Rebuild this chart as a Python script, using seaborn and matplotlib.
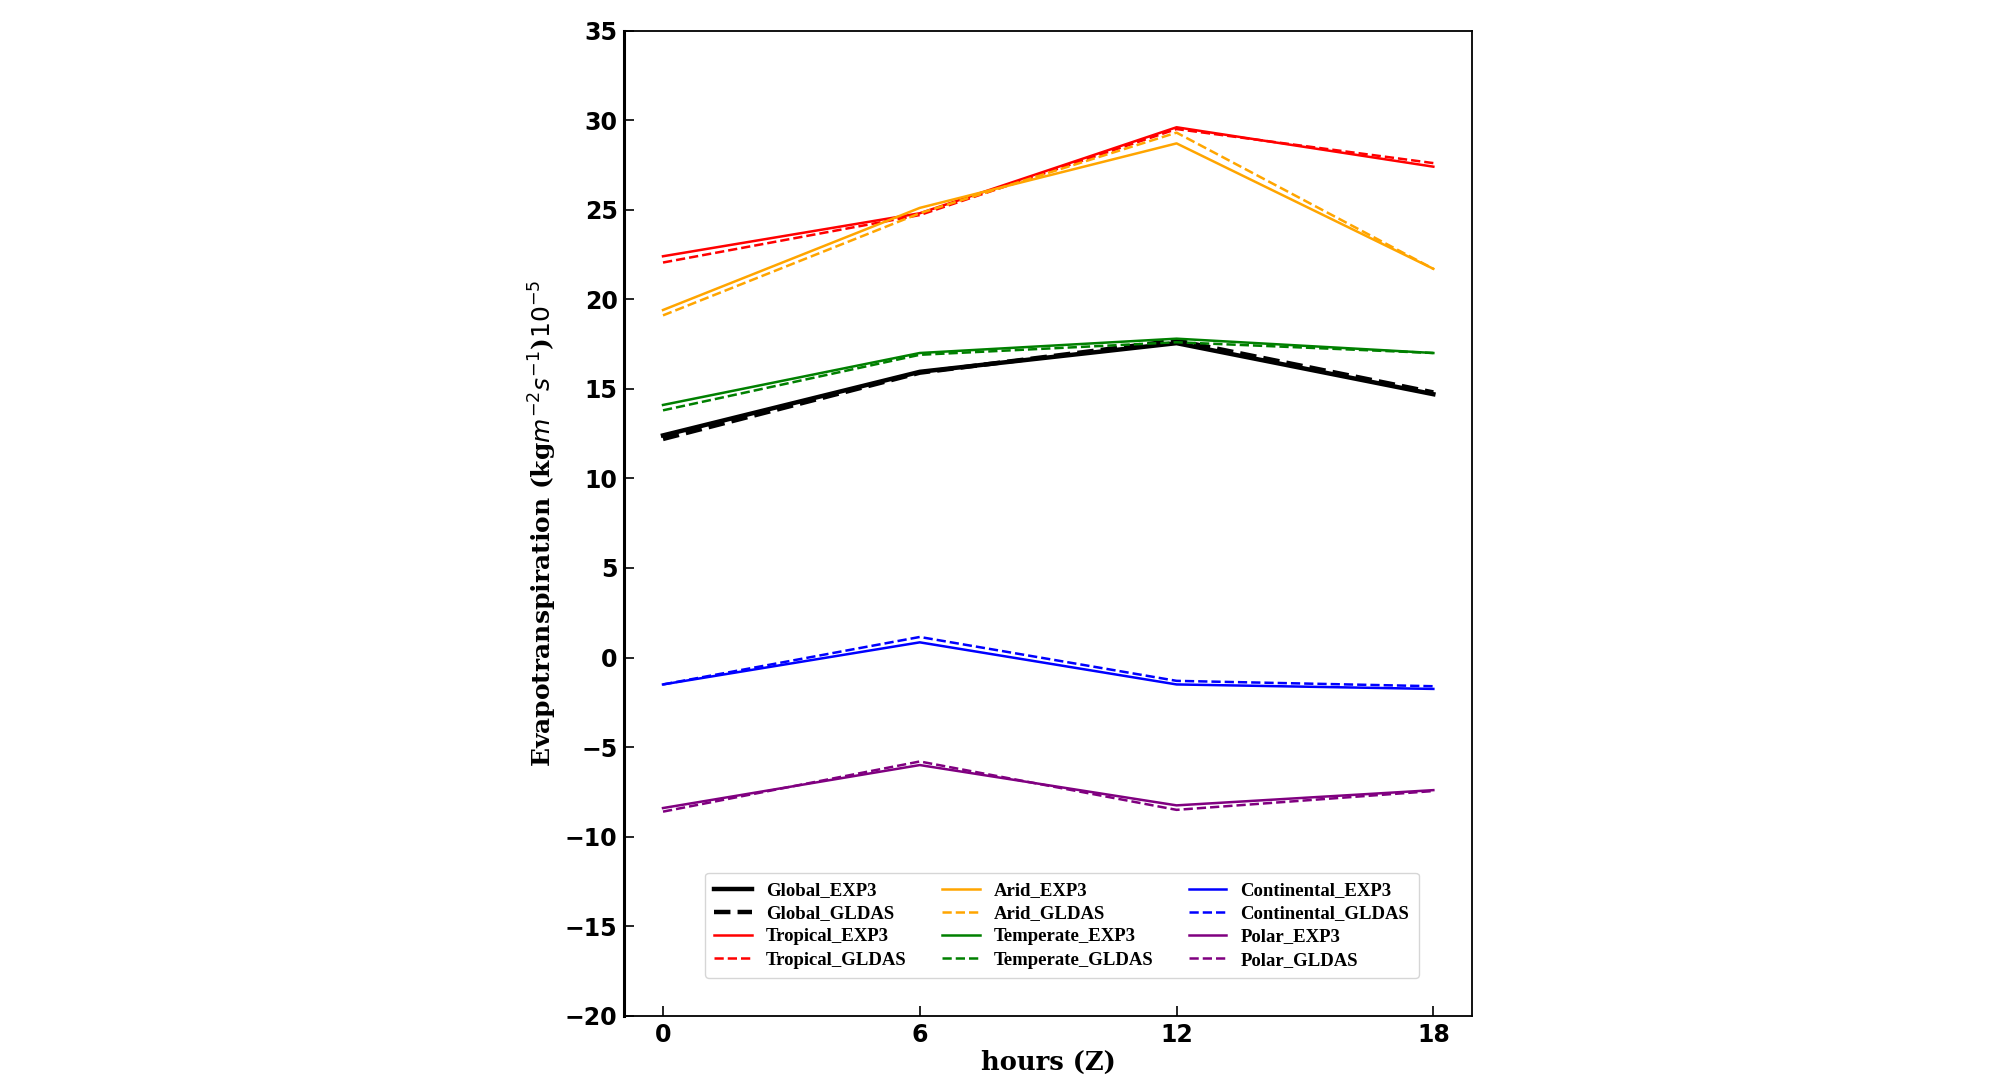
import numpy as np
import pandas as pd
import matplotlib
matplotlib.use("Agg")
import matplotlib.pyplot as plt
import seaborn as sns

hours = [0, 6, 12, 18]

global_exp3 = [12.4, 15.95, 17.55, 14.7]
global_gldas = [12.2, 15.9, 17.7, 14.8]
tropical_exp3 = [22.4, 24.8, 29.6, 27.4]
tropical_gldas = [22.05, 24.7, 29.5, 27.6]
arid_exp3 = [19.4, 25.1, 28.7, 21.7]
arid_gldas = [19.1, 24.8, 29.3, 21.7]
temperate_exp3 = [14.1, 17.0, 17.8, 17.0]
temperate_gldas = [13.8, 16.9, 17.6, 17.0]
continental_exp3 = [-1.5, 0.85, -1.5, -1.75]
continental_gldas = [-1.5, 1.15, -1.3, -1.6]
polar_exp3 = [-8.4, -6.0, -8.25, -7.4]
polar_gldas = [-8.6, -5.8, -8.5, -7.45]

regions = ["Global", "Tropical", "Arid", "Temperate", "Continental", "Polar"]
colors = ["black", "red", "orange", "green", "blue", "purple"]
exp3 = [global_exp3, tropical_exp3, arid_exp3, temperate_exp3, continental_exp3, polar_exp3]
gldas = [global_gldas, tropical_gldas, arid_gldas, temperate_gldas, continental_gldas, polar_gldas]


def main():
    fig = plt.figure(figsize=(20.08, 10.9), dpi=100)
    ax = fig.add_axes([0.311, 0.068, 0.422, 0.904])

    for name, col, e, g in zip(regions, colors, exp3, gldas):
        lw = 3.2 if name == "Global" else 1.8
        sns.lineplot(x=hours, y=e, color=col, lw=lw, ax=ax, label=name + "_EXP3")
        sns.lineplot(x=hours, y=g, color=col, lw=lw, ls="--", ax=ax, label=name + "_GLDAS")

    ax.set_ylim(-20, 35)
    ax.set_yticks(np.arange(-20, 36, 5))
    ax.set_xticks(hours)
    ax.tick_params(direction="in", length=7, width=1.2, labelsize=17, pad=5)
    for lab in ax.get_yticklabels():
        lab.set_fontweight("bold")
    for lab in ax.get_xticklabels():
        lab.set_fontweight("bold")

    ax.set_xlabel("hours (Z)", fontsize=18.5, fontweight="bold", family="DejaVu Serif",
                  labelpad=2)
    ax.set_ylabel(r"Evapotranspiration (kg$m^{-2}s^{-1}$)$10^{-5}$",
                  fontsize=18, fontweight="bold", family="DejaVu Serif", labelpad=4)

    ax.spines["left"].set_linewidth(2.2)
    for s in ["top", "right", "bottom"]:
        ax.spines[s].set_linewidth(1.3)

    ax.legend(ncol=3, loc="lower center", bbox_to_anchor=(0.516, 0.029),
              prop={"family": "Liberation Serif", "weight": "bold", "size": 13.5},
              handlelength=2.0, handletextpad=0.75, columnspacing=1.9,
              labelspacing=0.32, borderpad=0.5)

    fig.savefig("out.png", dpi=100)


if __name__ == "__main__":
    main()
